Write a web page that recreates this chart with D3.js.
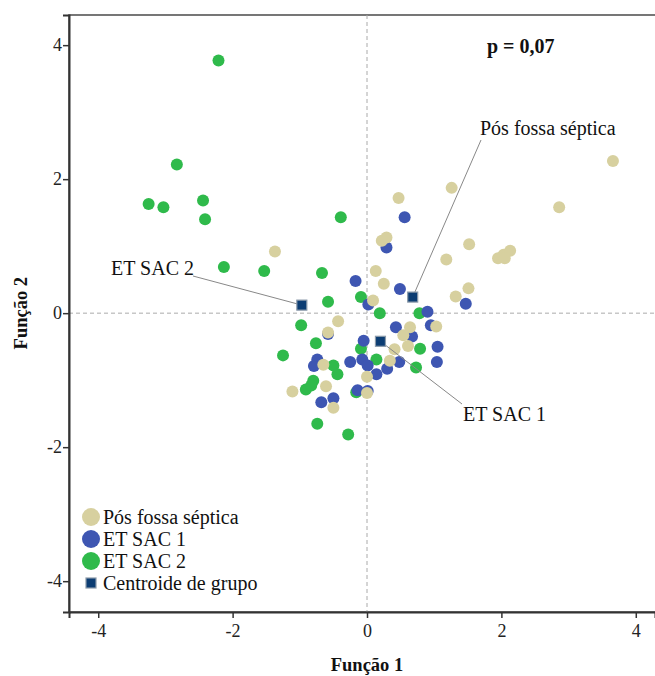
<!DOCTYPE html>
<html>
<head>
<meta charset="utf-8">
<script src="https://cdn.jsdelivr.net/npm/d3@7"></script>
<style>
  body { margin: 0; background: #fff; }
  svg text { font-family: "Liberation Serif", "DejaVu Serif", serif; fill: #111; }
</style>
</head>
<body>
<script>
const width = 655;
const height = 676;

// groups and colours
const groups = ["Pós fossa séptica", "ET SAC 1", "ET SAC 2"];
const groupColors = ["#d7d09f", "#3e56b2", "#2fba4b"];

// discriminant scores [Função 1, Função 2]
const posFossa = [
    [-1.37, 0.92], [0.47, 1.72], [1.26, 1.87], [3.66, 2.27], [2.86, 1.58],
    [0.22, 1.08], [0.29, 1.13], [1.52, 1.03], [1.18, 0.80], [1.95, 0.82],
    [2.03, 0.87], [2.13, 0.93], [2.05, 0.82], [0.13, 0.63], [0.25, 0.44],
    [1.51, 0.37], [1.32, 0.25], [0.09, 0.19], [0.64, -0.21], [1.03, -0.20],
    [-0.43, -0.12], [-0.58, -0.29], [0.54, -0.33], [0.61, -0.49], [0.41, -0.54],
    [-0.65, -0.77], [0.34, -0.71], [0.00, -0.95], [-1.11, -1.17], [-0.61, -1.09],
    [-0.50, -1.41], [0.00, -1.19]
];
const etSac1 = [
    [0.56, 1.43], [0.29, 0.98], [-0.17, 0.48], [0.49, 0.36], [1.47, 0.14],
    [0.02, 0.13], [0.90, 0.02], [0.43, -0.21], [0.95, -0.18], [-0.58, -0.31],
    [-0.05, -0.41], [0.67, -0.35], [1.05, -0.50], [-0.74, -0.69], [-0.79, -0.79],
    [-0.25, -0.73], [-0.07, -0.69], [0.01, -0.78], [0.48, -0.73], [0.30, -0.83],
    [0.14, -0.91], [1.04, -0.73], [-0.50, -1.27], [-0.68, -1.33], [0.01, -1.16],
    [-0.14, -1.15]
];
const etSac2 = [
    [-2.21, 3.77], [-2.83, 2.22], [-3.25, 1.63], [-3.03, 1.58], [-2.44, 1.68],
    [-2.41, 1.40], [-2.13, 0.69], [-1.53, 0.63], [-0.67, 0.60], [-0.58, 0.17],
    [-0.98, -0.18], [-0.39, 1.43], [-0.09, 0.24], [0.19, 0.00], [0.78, 0.00],
    [-0.76, -0.45], [-0.09, -0.53], [0.79, -0.53], [-1.25, -0.63], [-0.50, -0.78],
    [-0.44, -0.91], [0.14, -0.69], [0.73, -0.81], [-0.80, -1.01], [-0.91, -1.14],
    [-0.83, -1.08], [-0.16, -1.18], [-0.74, -1.65], [-0.28, -1.81]
];

// group centroids
const centroids = [[0.68, 0.24], [0.20, -0.42], [-0.97, 0.12]];

const xTicks = [-4, -2, 0, 2, 4];
const yTicks = [-4, -2, 0, 2, 4];

const svg = d3.select("body").append("svg")
    .attr("width", width)
    .attr("height", height);

const plotLeft = 69, plotRight = 655, plotTop = 15, plotBottom = 612;

const x = d3.scaleLinear().domain([-4.435, 4.286]).range([plotLeft, plotRight]);
const y = d3.scaleLinear().domain([-4.46, 4.45]).range([plotBottom, plotTop]);

// frame (right side runs past the edge of the picture)
svg.append("rect")
    .attr("x", plotLeft).attr("y", plotTop)
    .attr("width", plotRight - plotLeft + 20).attr("height", plotBottom - plotTop)
    .attr("fill", "none")
    .attr("stroke", "#555")
    .attr("stroke-width", 1.6);

// reference lines
svg.append("line")
    .attr("x1", x(0)).attr("x2", x(0))
    .attr("y1", plotTop).attr("y2", plotBottom)
    .attr("stroke", "#aaa").attr("stroke-dasharray", "4,3");
svg.append("line")
    .attr("x1", plotLeft).attr("x2", plotRight)
    .attr("y1", y(0)).attr("y2", y(0))
    .attr("stroke", "#aaa").attr("stroke-dasharray", "4,3");

// axes
const xAxis = svg.append("g")
    .attr("transform", "translate(0," + plotBottom + ")")
    .call(d3.axisBottom(x).tickValues(xTicks).tickSize(6).tickPadding(6)
        .tickFormat(d3.format("d")));
const yAxis = svg.append("g")
    .attr("transform", "translate(" + plotLeft + ",0)")
    .call(d3.axisLeft(y).tickValues(yTicks).tickSize(6).tickPadding(1)
        .tickFormat(d3.format("d")));

[xAxis, yAxis].forEach(function (g) {
    g.attr("font-family", null).attr("font-size", null);
    g.select(".domain").attr("stroke", "#333").attr("stroke-width", 2);
    g.selectAll(".tick line").attr("stroke", "#333").attr("stroke-width", 1.5);
    g.selectAll(".tick text")
        .style("font-family", "'Liberation Serif', serif")
        .style("font-size", "18px")
        .style("fill", "#222")
        .text(function (d) { return d < 0 ? "-" + Math.abs(d) : d; });
});

// points
const series = [etSac2, etSac1, posFossa];
const seriesColor = [groupColors[2], groupColors[1], groupColors[0]];
series.forEach(function (data, i) {
    svg.append("g")
        .selectAll("circle")
        .data(data)
        .enter().append("circle")
        .attr("cx", function (d) { return x(d[0]); })
        .attr("cy", function (d) { return y(d[1]); })
        .attr("r", 6)
        .attr("fill", seriesColor[i]);
});

// annotation leaders
const labels = [
    { text: "Pós fossa séptica", lx: 480, ly: 135, ex: 481, ey: 140 },
    { text: "ET SAC 1", lx: 463, ly: 421, ex: 462, ey: 404 },
    { text: "ET SAC 2", lx: 111, ly: 275, ex: 193, ey: 276 }
];
labels.forEach(function (l, i) {
    svg.append("line")
        .attr("x1", x(centroids[i][0])).attr("y1", y(centroids[i][1]))
        .attr("x2", l.ex).attr("y2", l.ey)
        .attr("stroke", "#888").attr("stroke-width", 1);
    svg.append("text")
        .attr("x", l.lx).attr("y", l.ly)
        .style("font-size", "20px")
        .text(l.text);
});

// centroids
svg.append("g")
    .selectAll("rect")
    .data(centroids)
    .enter().append("rect")
    .attr("x", function (d) { return x(d[0]) - 5; })
    .attr("y", function (d) { return y(d[1]) - 5; })
    .attr("width", 10).attr("height", 10)
    .attr("fill", "#0c3d73")
    .attr("stroke", "#8b9aaa")
    .attr("stroke-width", 1.2);

// p value
svg.append("text")
    .attr("x", 487).attr("y", 53)
    .style("font-size", "20px")
    .style("font-weight", "bold")
    .text("p = 0,07");

// axis titles
svg.append("text")
    .attr("x", x(0)).attr("y", 671)
    .attr("text-anchor", "middle")
    .style("font-size", "18.5px")
    .style("font-weight", "bold")
    .text("Função 1");
svg.append("text")
    .attr("transform", "translate(27," + y(0) + ") rotate(-90)")
    .attr("text-anchor", "middle")
    .style("font-size", "18.5px")
    .style("font-weight", "bold")
    .text("Função 2");

// legend
const legend = svg.append("g");
groups.forEach(function (g, i) {
    const ly = 517 + i * 22;
    legend.append("circle")
        .attr("cx", 91).attr("cy", ly).attr("r", 9)
        .attr("fill", groupColors[i]);
    legend.append("text")
        .attr("x", 103).attr("y", ly + 7)
        .style("font-size", "20px")
        .text(g);
});
legend.append("rect")
    .attr("x", 86).attr("y", 578).attr("width", 10).attr("height", 10)
    .attr("fill", "#0c3d73").attr("stroke", "#8b9aaa").attr("stroke-width", 1.2);
legend.append("text")
    .attr("x", 103).attr("y", 590)
    .style("font-size", "20px")
    .text("Centroide de grupo");
</script>
</body>
</html>
